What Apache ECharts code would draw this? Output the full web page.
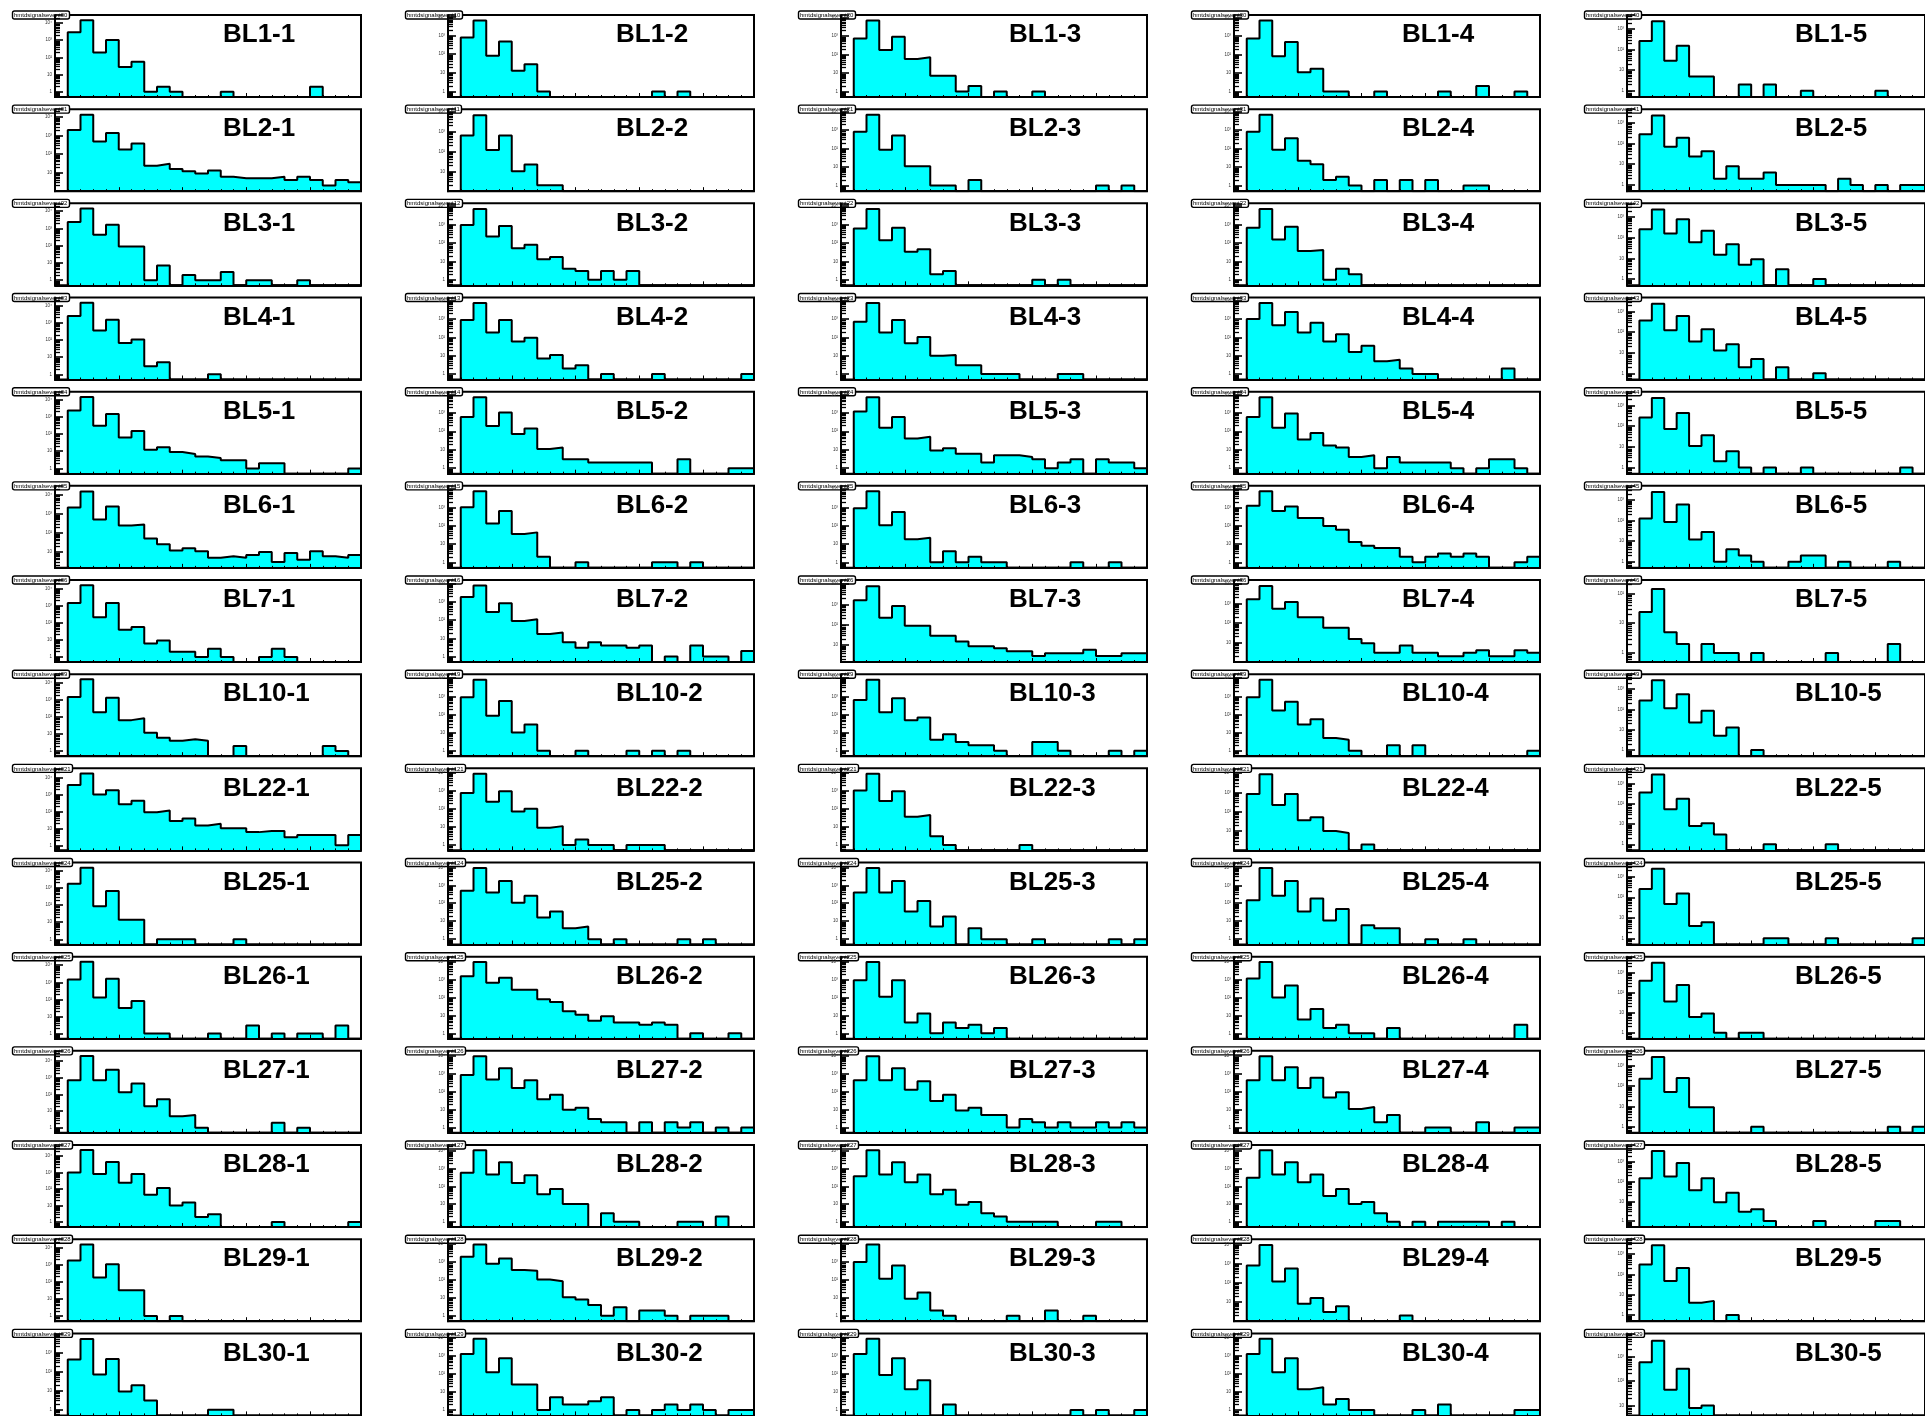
<!DOCTYPE html>
<html><head><meta charset="utf-8">
<script src="https://cdn.jsdelivr.net/npm/echarts@6/dist/echarts.min.js"></script>
<style>html,body{margin:0;padding:0;background:#fff;overflow:hidden}#chart{width:1925px;height:1416px}</style>
</head><body><div id="chart"></div>
<script>
// ---- categories ----
const blNumbers = [1, 2, 3, 4, 5, 6, 7, 10, 22, 25, 26, 27, 28, 29, 30];
const columnNumbers = [1, 2, 3, 4, 5];
const histPrefix = 'hmtdsignalsevent';
const binCount = 23; // bins occupy x = 1..24 on an axis running 0..24

// ---- bin contents (23 bins each) ----
const bl1_1 = [2900,14700,195,1050,28,56,1,2,1,0,0,0,1,0,0,0,0,0,0,2,0,0,0];
const bl1_2 = [780,6300,81,480,13,29,1,0,0,0,0,0,0,0,0,1,0,1,0,0,0,0,0];
const bl1_3 = [750,7000,175,930,57,71,7,7,1,2,0,1,0,0,1,0,0,0,0,0,0,0,0];
const bl1_4 = [750,7000,80,480,11,17,1,1,0,0,1,0,0,0,0,1,0,0,2,0,0,1,0];
const bl1_5 = [260,2400,29,155,5,5,0,0,2,0,2,0,0,1,0,0,0,0,0,1,0,0,0];
const bl2_1 = [2040,13600,490,1420,178,380,24,30,16,12,9,13,6,5,5,5,6,4,6,4,2,4,3];
const bl2_2 = [630,6600,118,630,10,22,2,2,0,0,0,0,0,0,0,0,0,0,0,0,0,0,0];
const bl2_3 = [790,6600,85,500,11,11,1,1,0,2,0,0,0,0,0,0,0,0,0,1,0,1,0];
const bl2_4 = [790,6600,85,360,22,14,2,3,1,0,2,0,2,0,2,0,0,1,1,0,0,0,0];
const bl2_5 = [275,2200,69,186,23,42,2,8,2,2,4,1,1,1,1,0,2,1,0,1,0,1,1];
const bl3_1 = [2300,14000,430,1600,90,90,1,7,0,2,1,1,3,0,1,1,0,0,1,0,0,0,0];
const bl3_2 = [930,7000,220,830,51,80,13,17,4,3,1,3,1,3,0,0,0,0,0,0,0,0,0];
const bl3_3 = [600,7000,140,670,33,46,2,3,0,0,0,0,0,0,1,0,1,0,0,0,0,0,0];
const bl3_4 = [670,7000,155,750,36,41,1,4,2,0,0,0,0,0,0,0,0,0,0,0,0,0,0];
const bl3_5 = [260,2300,160,780,60,215,15,49,5,9,0,3,0,0,1,0,0,0,0,0,0,0,0];
const bl4_1 = [2450,14700,355,1500,66,107,3,5,0,0,0,1,0,0,0,0,0,0,0,0,0,0,0];
const bl4_2 = [890,7400,185,890,60,95,7,11,2,3,0,1,0,0,0,1,0,0,0,0,0,0,1];
const bl4_3 = [710,7400,185,890,48,105,10,11,3,3,1,1,1,0,0,0,1,1,0,0,0,0,0];
const bl4_4 = [1000,7400,450,2400,185,630,60,148,16,35,5,6,2,1,1,0,0,0,0,0,2,0,0];
const bl4_5 = [370,2450,126,610,35,138,13,26,2,5,0,2,0,0,1,0,0,0,0,0,0,0,0];
const bl5_1 = [2300,14000,300,1440,63,147,12,17,9,7,5,4,3,3,1,2,2,0,0,0,0,0,1];
const bl5_2 = [600,7000,195,1050,71,140,11,13,3,3,2,2,2,2,2,0,0,3,0,0,0,1,1];
const bl5_3 = [1170,7000,155,600,41,51,9,12,6,6,2,5,5,4,3,1,2,3,0,3,2,2,1];
const bl5_4 = [600,7000,155,930,36,80,17,13,4,5,1,4,2,2,2,2,1,0,1,3,3,1,0];
const bl5_5 = [260,2300,73,430,11,36,2,6,1,0,1,0,0,1,0,0,0,0,0,0,0,1,0];
const bl6_1 = [2150,14700,510,2450,250,280,52,26,12,16,11,5,6,5,7,10,3,9,4,11,6,5,7];
const bl6_2 = [1000,7400,132,630,35,43,2,0,0,1,0,0,0,0,0,1,1,0,1,0,0,0,0];
const bl6_3 = [890,7400,105,560,18,22,1,4,1,2,1,1,0,0,0,0,0,1,0,0,1,0,0];
const bl6_4 = [1230,7400,630,1100,260,260,95,60,13,8,6,6,2,1,2,3,2,3,2,0,0,1,2];
const bl6_5 = [126,2450,85,610,12,28,1,4,2,1,0,0,1,2,2,0,1,0,0,0,1,0,0];
const bl7_1 = [1440,15800,210,1440,39,56,6,9,2,2,1,3,1,0,0,1,3,1,0,0,0,0,0];
const bl7_2 = [1820,7800,275,830,89,112,17,21,6,3,6,4,4,3,4,0,1,0,4,1,1,0,2];
const bl7_3 = [1600,7800,220,830,89,89,29,29,15,9,9,7,5,5,3,4,4,4,6,3,3,4,4];
const bl7_4 = [1600,7800,530,1170,195,195,57,57,15,9,3,3,7,3,3,2,2,3,4,2,2,4,3];
const bl7_5 = [24,141,5,2,0,2,1,1,0,1,0,0,0,0,0,1,0,0,0,0,2,0,0];
const bl10_1 = [1500,16600,195,1350,66,85,12,6,4,5,4,0,0,2,0,0,0,0,0,0,2,1,0];
const bl10_2 = [890,8300,85,560,10,28,1,0,0,1,0,0,0,1,0,1,0,1,0,0,0,0,0];
const bl10_3 = [630,8300,132,790,48,68,4,8,3,2,2,1,0,0,3,3,1,0,0,0,1,0,1];
const bl10_4 = [890,8300,165,500,28,54,5,4,1,0,0,2,0,2,0,0,0,0,0,0,0,0,1];
const bl10_5 = [275,2700,115,550,23,85,5,13,0,1,0,0,0,0,0,0,0,0,0,0,0,0,0];
const bl22_1 = [3700,17800,1000,1820,270,430,91,115,27,39,15,19,10,10,6,7,7,3,4,4,4,1,4];
const bl22_2 = [750,8700,245,930,71,100,9,11,1,2,1,1,0,1,1,1,0,0,0,0,0,0,0];
const bl22_3 = [1050,8700,275,930,36,46,3,1,0,0,0,0,0,1,0,0,0,0,0,0,0,0,0];
const bl22_4 = [830,8700,220,830,36,51,10,8,0,2,0,0,0,0,0,0,0,0,0,0,0,0,0];
const bl22_5 = [355,2800,54,178,8,11,3,0,0,0,1,0,0,0,0,1,0,0,0,0,0,0,0];
const bl25_1 = [1700,14800,85,650,14,14,0,1,1,1,0,0,0,1,0,0,0,0,0,0,0,0,0];
const bl25_2 = [500,9300,400,1740,105,260,16,35,4,5,1,0,1,0,0,0,0,1,0,1,0,0,0];
const bl25_3 = [400,9300,400,1740,35,132,5,18,0,4,1,1,0,0,1,0,0,0,0,0,1,0,1];
const bl25_4 = [148,9300,260,1740,35,185,11,48,0,6,4,4,0,0,1,0,0,1,0,0,0,0,0];
const bl25_5 = [250,2450,47,152,4,6,0,0,0,0,1,1,0,0,0,1,0,0,0,0,0,0,1];
const bl26_1 = [1440,15800,130,1600,31,81,1,1,0,0,0,1,0,0,3,0,1,0,1,1,0,3,0];
const bl26_2 = [1600,9800,670,1300,275,275,80,57,17,11,5,9,4,4,3,4,3,0,1,0,0,1,0];
const bl26_3 = [930,9800,112,930,4,13,1,4,2,3,1,2,0,0,0,0,0,0,0,0,0,0,0];
const bl26_4 = [1170,9800,100,480,6,23,2,3,1,1,0,2,0,0,0,0,0,0,0,0,0,3,0];
const bl26_5 = [390,3100,36,240,6,9,1,0,1,1,0,0,0,0,0,0,0,0,0,0,0,0,0];
const bl27_1 = [730,21000,730,3100,137,455,20,52,5,6,1,0,0,0,0,0,2,0,1,0,0,0,0];
const bl27_2 = [890,10000,500,2150,165,450,39,68,10,13,3,2,2,0,2,0,2,1,2,0,1,0,1];
const bl27_3 = [450,10000,450,2150,132,400,31,68,9,13,5,5,1,3,2,1,2,1,1,2,1,2,1];
const bl27_4 = [450,10000,450,2400,165,630,48,95,11,14,2,5,0,0,1,1,0,0,2,0,0,1,1];
const bl27_5 = [230,2700,51,250,9,9,0,0,0,1,0,0,0,0,0,0,0,0,0,0,1,0,1];
const bl28_1 = [1000,22500,790,4200,240,790,44,115,10,15,2,3,0,0,0,0,1,0,0,0,0,0,1];
const bl28_2 = [600,11000,480,2300,155,430,36,71,10,10,0,3,1,1,0,0,0,1,1,0,2,0,0];
const bl28_3 = [380,11000,480,2300,174,480,36,64,9,13,3,2,1,1,1,1,0,0,0,1,1,0,0];
const bl28_4 = [310,11000,480,2300,174,480,29,71,10,13,3,1,0,1,0,1,1,1,1,0,1,0,0];
const bl28_5 = [145,3500,178,870,36,145,9,27,3,4,1,0,0,0,1,0,0,0,0,1,1,0,0];
const bl29_1 = [1700,14800,174,1050,32,32,1,0,1,0,0,0,0,0,0,0,0,0,0,0,0,0,0];
const bl29_2 = [1950,9300,790,1550,360,320,105,85,11,8,4,1,3,0,2,2,1,0,1,1,1,0,0];
const bl29_3 = [1000,9300,118,630,9,20,2,1,0,0,0,0,1,0,0,2,0,0,1,0,0,0,0];
const bl29_4 = [790,9300,118,560,8,16,3,6,0,0,0,0,2,0,0,0,0,0,0,0,0,0,0];
const bl29_5 = [305,2700,47,205,4,5,0,1,0,0,0,0,0,0,0,0,0,0,0,0,0,0,0];
const bl30_1 = [430,5000,70,450,9,19,3,0,0,0,0,1,1,0,0,0,0,0,0,0,0,0,0];
const bl30_2 = [1230,8300,118,710,25,25,1,5,2,2,3,5,0,1,0,1,2,1,2,1,0,1,1];
const bl30_3 = [1230,8300,85,710,14,43,0,2,0,0,0,0,0,0,0,0,0,1,0,1,0,0,1];
const bl30_4 = [1230,8300,118,710,14,18,2,4,1,1,0,0,0,1,0,2,0,0,0,0,0,1,1];
const bl30_5 = [575,4350,44,315,8,10,0,0,0,0,0,0,0,0,0,0,0,0,0,0,0,0,0];

const panelRows = [
  [bl1_1, bl1_2, bl1_3, bl1_4, bl1_5],
  [bl2_1, bl2_2, bl2_3, bl2_4, bl2_5],
  [bl3_1, bl3_2, bl3_3, bl3_4, bl3_5],
  [bl4_1, bl4_2, bl4_3, bl4_4, bl4_5],
  [bl5_1, bl5_2, bl5_3, bl5_4, bl5_5],
  [bl6_1, bl6_2, bl6_3, bl6_4, bl6_5],
  [bl7_1, bl7_2, bl7_3, bl7_4, bl7_5],
  [bl10_1, bl10_2, bl10_3, bl10_4, bl10_5],
  [bl22_1, bl22_2, bl22_3, bl22_4, bl22_5],
  [bl25_1, bl25_2, bl25_3, bl25_4, bl25_5],
  [bl26_1, bl26_2, bl26_3, bl26_4, bl26_5],
  [bl27_1, bl27_2, bl27_3, bl27_4, bl27_5],
  [bl28_1, bl28_2, bl28_3, bl28_4, bl28_5],
  [bl29_1, bl29_2, bl29_3, bl29_4, bl29_5],
  [bl30_1, bl30_2, bl30_3, bl30_4, bl30_5]
];

// ---- layout (pixels) ----
const PAD_W = 393, PAD_H = 94.17;
const FRAME_L = 55, FRAME_T = 15, FRAME_W = 306, FRAME_H = 82;

const supDigits = {'0':'\u2070','1':'\u00b9','2':'\u00b2','3':'\u00b3','4':'\u2074','5':'\u2075','6':'\u2076','7':'\u2077','8':'\u2078','9':'\u2079'};
function logLabel(v) {
  const e = Math.round(Math.log10(v));
  if (Math.abs(Math.log10(v) - e) > 1e-6) return '';
  if (e === 0) return '1';
  if (e === 1) return '10';
  return '10' + String(e).split('').map(d => supDigits[d] || d).join('');
}

const grids = [], xAxes = [], yAxes = [], series = [], titles = [];
blNumbers.forEach((bl, r) => {
  columnNumbers.forEach((col, c) => {
    const vals = panelRows[r][c];
    const idx = grids.length;
    const left = FRAME_L + c * PAD_W;
    const top = FRAME_T + r * PAD_H;
    const positives = vals.filter(v => v > 0);
    const yMin = 0.5 * Math.min.apply(null, positives);
    const yMax = 2 * Math.max.apply(null, positives);
    const span = Math.log10(yMax) - Math.log10(yMin);

    grids.push({left: left, top: top, width: FRAME_W, height: FRAME_H,
      show: true, borderColor: '#000', borderWidth: 2, backgroundColor: 'transparent', containLabel: false});

    xAxes.push({gridIndex: idx, type: 'value', min: 0, max: 24, interval: 5, z: 6,
      axisLine: {show: true, onZero: false, lineStyle: {color: '#000', width: 2}},
      axisTick: {show: true, inside: true, length: 4, lineStyle: {color: '#000', width: 1}},
      minorTick: {show: true, splitNumber: 5, length: 2, lineStyle: {color: '#000', width: 1}},
      axisLabel: {show: false}, splitLine: {show: false}});

    yAxes.push({gridIndex: idx, type: 'log', logBase: 10, min: yMin, max: yMax,
      splitNumber: Math.max(1, Math.round(span)), z: 6,
      axisLine: {show: true, lineStyle: {color: '#000', width: 2}},
      axisTick: {show: true, inside: true, length: 8, lineStyle: {color: '#000', width: 1.6}},
      minorTick: {show: true, splitNumber: 9, length: 5, lineStyle: {color: '#000', width: 1.3}},
      axisLabel: {show: true, fontSize: 4.5, color: '#333', margin: 3, fontFamily: 'Liberation Sans',
        showMinLabel: false, showMaxLabel: false, formatter: logLabel},
      splitLine: {show: false}, minorSplitLine: {show: false}});

    // ROOT-style step outline: vertical rise at the first edge, then one step per bin
    const pts = [[1, yMin]];
    vals.forEach((v, k) => pts.push([1 + k, Math.max(v, yMin)]));
    pts.push([1 + binCount, Math.max(vals[binCount - 1], yMin)]);
    pts.push([1 + binCount, yMin]);
    series.push({type: 'line', xAxisIndex: idx, yAxisIndex: idx, data: pts, step: 'end',
      symbol: 'none', showSymbol: false, silent: true, z: 2, clip: true,
      lineStyle: {color: '#000', width: 2},
      areaStyle: {color: '#00ffff', opacity: 1, origin: 'start'}});

    titles.push({text: 'BL' + bl + '-' + col, left: left + 168, top: top + 7, padding: 0,
      textStyle: {fontFamily: 'Liberation Sans', fontWeight: 'bold', fontSize: 26, lineHeight: 26, color: '#000'}});
    titles.push({text: histPrefix + (col - 1) + (bl - 1), left: left - 43, top: top - 4,
      padding: [1.5, 2, 1, 2], borderColor: '#000', borderWidth: 1.4, borderRadius: 2, backgroundColor: '#fff',
      textStyle: {fontFamily: 'Liberation Sans', fontWeight: 'normal', fontSize: 6, lineHeight: 6, color: '#000'}});
  });
});

const chart = echarts.init(document.getElementById('chart'), null, {renderer: 'canvas'});
chart.setOption({animation: false, backgroundColor: '#fff', title: titles,
  grid: grids, xAxis: xAxes, yAxis: yAxes, series: series});
</script>
</body></html>
